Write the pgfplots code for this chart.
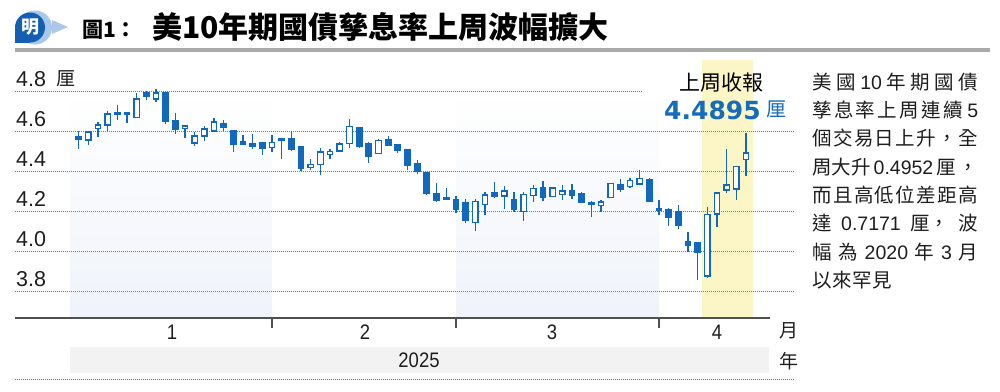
\documentclass[border=0pt]{standalone}
\usepackage{pgfplots}
\pgfplotsset{compat=1.18}
\usepackage{pgfplotstable}
\usepackage{fontspec}
\setmainfont{Liberation Sans}
\newfontfamily\cjk{Noto Sans CJK TC}
\newfontfamily\narrowf{Liberation Sans}[FakeStretch=0.88]
\newfontfamily\dejavu{DejaVu Sans}
\newcommand\lat[1]{{\rmfamily #1}}
\newcommand\para{\cjk\fontsize{19.5}{21}\selectfont}
\definecolor{candle}{RGB}{18,104,188}
\definecolor{hlblue}{RGB}{22,108,186}
\definecolor{gridc}{RGB}{125,125,125}
\definecolor{shadec}{RGB}{239,243,250}
\definecolor{yelc}{RGB}{252,246,198}
\definecolor{txt}{RGB}{30,30,30}
\definecolor{logoblue}{RGB}{20,95,178}
\definecolor{logolight}{RGB}{165,200,236}
\definecolor{logotail}{RGB}{175,198,232}
\definecolor{rule}{RGB}{170,170,170}
\definecolor{axisc}{RGB}{80,80,80}
\definecolor{bandc}{RGB}{242,242,242}

\pgfplotstableread{
i o h l c
0 4.570 4.600 4.510 4.560
1 4.555 4.600 4.530 4.595
2 4.615 4.645 4.570 4.630
3 4.630 4.700 4.600 4.685
4 4.690 4.728 4.655 4.685
5 4.690 4.692 4.640 4.686
6 4.668 4.788 4.665 4.760
7 4.790 4.800 4.757 4.775
8 4.760 4.810 4.745 4.790
9 4.790 4.790 4.633 4.650
10 4.652 4.690 4.585 4.610
11 4.615 4.630 4.565 4.625
12 4.540 4.595 4.525 4.575
13 4.575 4.625 4.550 4.610
14 4.600 4.665 4.593 4.645
15 4.638 4.655 4.600 4.620
16 4.600 4.600 4.497 4.535
17 4.545 4.580 4.530 4.535
18 4.535 4.585 4.508 4.525
19 4.540 4.540 4.480 4.515
20 4.518 4.580 4.497 4.542
21 4.562 4.562 4.458 4.555
22 4.563 4.600 4.500 4.508
23 4.522 4.525 4.400 4.415
24 4.420 4.458 4.405 4.433
25 4.433 4.513 4.380 4.495
26 4.485 4.510 4.458 4.498
27 4.500 4.547 4.500 4.535
28 4.538 4.658 4.513 4.622
29 4.617 4.622 4.513 4.525
30 4.538 4.547 4.442 4.472
31 4.488 4.558 4.483 4.552
32 4.555 4.575 4.525 4.530
33 4.530 4.530 4.488 4.505
34 4.505 4.508 4.405 4.430
35 4.435 4.455 4.385 4.400
36 4.392 4.392 4.280 4.290
37 4.288 4.338 4.243 4.255
38 4.265 4.313 4.258 4.260
39 4.258 4.275 4.188 4.208
40 4.243 4.258 4.142 4.152
41 4.142 4.258 4.102 4.247
42 4.233 4.295 4.180 4.280
43 4.293 4.343 4.263 4.275
44 4.275 4.325 4.210 4.300
45 4.258 4.293 4.197 4.208
46 4.197 4.297 4.150 4.283
47 4.277 4.330 4.245 4.313
48 4.318 4.352 4.252 4.268
49 4.272 4.318 4.270 4.315
50 4.283 4.330 4.255 4.300
51 4.300 4.335 4.258 4.278
52 4.288 4.293 4.238 4.242
53 4.240 4.248 4.172 4.236
54 4.230 4.255 4.197 4.245
55 4.267 4.342 4.263 4.338
56 4.333 4.360 4.293 4.310
57 4.322 4.363 4.313 4.352
58 4.335 4.405 4.335 4.363
59 4.358 4.365 4.245 4.247
60 4.213 4.255 4.180 4.202
61 4.208 4.213 4.127 4.168
62 4.197 4.230 4.108 4.127
63 4.045 4.097 3.997 4.030
64 4.042 4.047 3.855 3.993
65 3.875 4.222 3.865 4.183
66 4.185 4.295 4.122 4.290
67 4.305 4.510 4.288 4.330
68 4.310 4.425 4.255 4.422
69 4.458 4.590 4.377 4.4895
}\candles

\begin{document}
\begin{tikzpicture}
\path[use as bounding box] (0pt,0pt) rectangle (1000pt,-391pt);
\begin{scope}[x=1pt,y=-1pt]
  % background bands
  \shade[top color=white, bottom color=shadec] (70,92) rectangle (272,318);
  \shade[top color=white, bottom color=shadec] (456,92) rectangle (659,318);
  \fill[yelc] (702,60) rectangle (753,318);
  % gridlines
  \draw[gridc, line width=1pt, dash pattern=on 1pt off 1pt] (15,91) -- (642,91);
  \foreach \yy in {131,171,211,251,291}
    \draw[gridc, line width=1pt, dash pattern=on 1pt off 1pt] (15,\yy) -- (795,\yy);
\end{scope}

\begin{axis}[
  at={(15pt,-318pt)}, anchor=south west,
  width=780pt, height=258pt, scale only axis,
  xmin=-6.587, xmax=74.07, ymin=3.665, ymax=4.955,
  hide axis, clip=false, unbounded coords=discard]
% wicks (high-low)
\addplot[draw=none, mark=none, forget plot,
  error bars/.cd, y dir=both, y explicit, error mark=none,
  error bar style={draw=candle, line width=1.3pt}]
  table[x=i, y expr={(\thisrow{h}+\thisrow{l})/2},
        y error expr={(\thisrow{h}-\thisrow{l})/2}] {\candles};
% bodies (open-close), outline / filled
\addplot[draw=none, mark=none, forget plot,
  error bars/.cd, y dir=both, y explicit, error mark=none,
  error bar style={draw=candle, line width=6.7pt}]
  table[x=i, y expr={(\thisrow{o}+\thisrow{c})/2},
        y error expr={max(abs(\thisrow{c}-\thisrow{o})/2,0.004)+0.00325}] {\candles};
% hollow interior of rising candles
\addplot[draw=none, mark=none, forget plot,
  error bars/.cd, y dir=both, y explicit, error mark=none,
  error bar style={draw=white, line width=4.1pt}]
  table[x=i, y expr={\thisrow{c}>\thisrow{o} ? (\thisrow{o}+\thisrow{c})/2 : nan},
        y error expr={max(abs(\thisrow{c}-\thisrow{o})/2,0.004)-0.00325}] {\candles};
\end{axis}

\begin{scope}[x=1pt,y=-1pt]
  % logo and title
  \fill[logotail] (52,20) -- (68,27) -- (52,34) -- cycle;
  \fill[logolight] (35,27.5) circle (17);
  \fill[logoblue] (30,27.5) circle (15);
  \fill[logoblue] (15,27.5) rectangle (30,42.5);
  \node[white, inner sep=0] at (30,27.5) {\cjk\bfseries\fontsize{18}{18}\selectfont 明};
  \node[anchor=base west, inner sep=0, black] at (82,37) {\cjk\bfseries\fontsize{21}{24}\selectfont 圖1：};
  \node[anchor=base west, inner sep=0, black] at (152,38.5) {\cjk\bfseries\fontsize{30}{32}\selectfont 美10年期國債孳息率上周波幅擴大};
  \fill[rule] (15,48) rectangle (990,51.5);
  % y labels
  \foreach \yy/\lab in {86.7/4.8,126.7/4.6,166.7/4.4,206.7/4.2,246.7/4.0,286.7/3.8}
    \node[anchor=base west, inner sep=0, txt] at (16,\yy) {\fontsize{21.5}{22}\selectfont \lab};
  \node[anchor=base west, inner sep=0, txt] at (56,85.5) {\cjk\fontsize{19}{19}\selectfont 厘};
  % x axis
  \draw[line width=2pt, axisc] (15,318) -- (770,318);
  \foreach \xx in {272,456,659}
    \draw[line width=1.3pt, axisc] (\xx,318) -- (\xx,328);
  \foreach \xx/\lab in {172/1,365/2,552/3,717/4}
    \node[txt] at (\xx,332) {\narrowf\fontsize{21}{21}\selectfont \lab};
  \node[txt] at (789,331) {\cjk\fontsize{19}{19}\selectfont 月};
  \fill[bandc] (70,347) rectangle (769,373);
  \node[txt] at (419,360) {\narrowf\fontsize{21}{21}\selectfont 2025};
  \node[txt] at (789,361) {\cjk\fontsize{19}{19}\selectfont 年};
  \draw[gridc, line width=1pt, dash pattern=on 1pt off 1pt] (15,379) -- (795,379);
  % highlight label
  \node[black] at (721.5,82.5) {\cjk\fontsize{21}{21}\selectfont 上周收報};
  \node[anchor=base west, inner sep=0, hlblue] at (664,119.5) {\dejavu\bfseries\fontsize{25}{25}\selectfont 4.4895};
  \node[anchor=base west, inner sep=0, hlblue] at (766,116) {\cjk\fontsize{20}{20}\selectfont 厘};
  % right text
  \begin{scope}[every node/.style={anchor=base west, inner sep=0, txt}]
    \node at (812,89.0) {\para\makebox[166pt][s]{美\hfill 國\hfill\lat{10}\hfill 年\hfill 期\hfill 國\hfill 債}};
    \node at (812,117.4) {\para\makebox[166pt][s]{孳\hfill 息\hfill 率\hfill 上\hfill 周\hfill 連\hfill 續\hfill\hfill\lat{5}}};
    \node at (812,145.7) {\para\makebox[166pt][s]{個\hfill 交\hfill 易\hfill 日\hfill 上\hfill 升\hfill ，\hfill 全}};
    \node at (812,174.1) {\para\makebox[166pt][s]{周大升\hfill\lat{0.4952}\hfill 厘\hfill ，}};
    \node at (812,202.4) {\para\makebox[166pt][s]{而\hfill 且\hfill 高\hfill 低\hfill 位\hfill 差\hfill 距\hfill 高}};
    \node at (812,230.8) {\para\makebox[166pt][s]{達\hfill\lat{0.7171}\hfill 厘，\hfill 波}};
    \node at (812,259.1) {\para\makebox[166pt][s]{幅\hfill 為\hfill\lat{2020}\hfill 年\hfill\lat{3}\hfill 月}};
    \node at (812,287.5) {\para\makebox[80pt][s]{以\hfill 來\hfill 罕\hfill 見}};
  \end{scope}
\end{scope}
\end{tikzpicture}
\end{document}
